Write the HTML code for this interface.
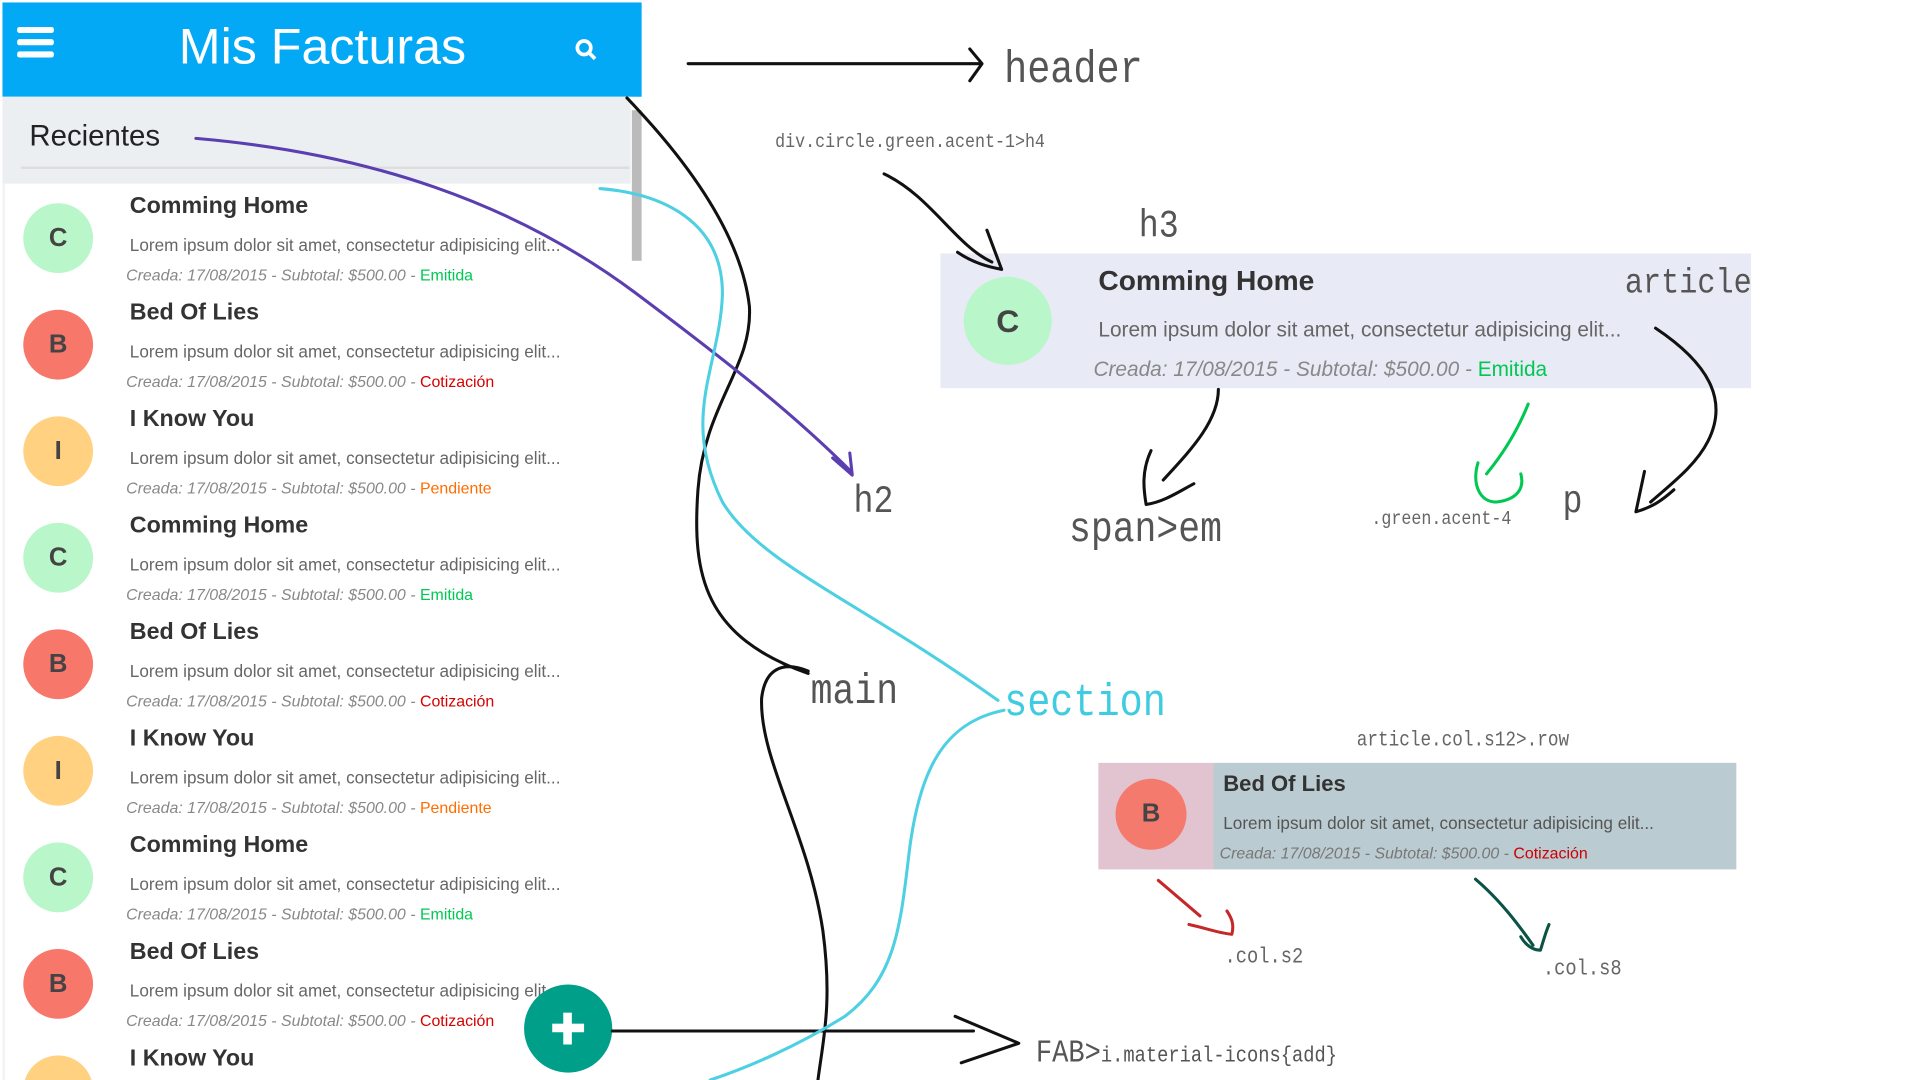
<!DOCTYPE html>
<html><head><meta charset="utf-8"><style>
html,body{margin:0;padding:0;background:#fff;width:1920px;height:1080px;overflow:hidden}
#w{position:absolute;left:0;top:0;width:1568px;height:882px;overflow:hidden;transform:scale(1.22449);transform-origin:0 0;font-family:"Liberation Sans",sans-serif}
.a{position:absolute;white-space:nowrap}
.lbl{position:absolute;white-space:nowrap;font-family:"Liberation Mono",monospace;color:#555;transform:scaleX(.85);transform-origin:0 0}
.circ{position:absolute;border-radius:50%;display:flex;align-items:center;justify-content:center;color:#444;font-weight:bold}
.t{font-size:19px;color:#333;font-weight:bold}
.l{font-size:14px;color:#666}
.c{font-size:13px;color:#888;font-style:italic}
</style></head><body><div id="w">
<div class="a" style="left:2px;top:2px;width:522px;height:77px;background:#03A9F4"></div>
<div class="a" style="left:14px;top:22px;width:30px;height:5px;background:#fff;border-radius:2px"></div>
<div class="a" style="left:14px;top:32px;width:30px;height:5px;background:#fff;border-radius:2px"></div>
<div class="a" style="left:14px;top:42px;width:30px;height:5px;background:#fff;border-radius:2px"></div>
<div class="a" style="left:146px;top:15px;font-size:41px;color:#fff">Mis Facturas</div>
<svg class="a" style="left:468px;top:30px" width="22" height="22"><circle cx="9" cy="9" r="5.5" stroke="#fff" stroke-width="3" fill="none"/><line x1="13" y1="13" x2="18" y2="18" stroke="#fff" stroke-width="3"/></svg>
<div class="a" style="left:2px;top:79px;width:513px;height:71px;background:#ECEFF1"></div>
<div class="a" style="left:24px;top:98px;font-size:24px;color:#222">Recientes</div>
<div class="a" style="left:17px;top:136px;width:497px;height:2px;background:#ddd"></div>
<div class="a" style="left:516px;top:90px;width:8px;height:123px;background:#bbb"></div>
<div class="a" style="left:2px;top:150px;width:2px;height:732px;background:#f2f2f2"></div>

<div id="list"></div>

<div class="circ" style="left:428px;top:804px;width:72px;height:72px;background:#009F89"></div>
<div class="a" style="left:451px;top:836px;width:26px;height:7px;background:#fff"></div>
<div class="a" style="left:460px;top:827px;width:7px;height:26px;background:#fff"></div>

<div class="a" style="left:768px;top:207px;width:662px;height:110px;background:#E8EAF6"></div>
<div class="circ" style="left:787px;top:226px;width:72px;height:72px;background:#B9F6CA;font-size:26px">C</div>
<div class="a" style="left:897px;top:216px;font-size:23px;color:#333;font-weight:bold">Comming Home</div>
<div class="a" style="left:897px;top:260px;font-size:17px;color:#666">Lorem ipsum dolor sit amet, consectetur adipisicing elit...</div>
<div class="a" style="left:893px;top:292px;font-size:17px;color:#888;font-style:italic">Creada: 17/08/2015 - Subtotal: $500.00 - <span style="color:#00C853;font-style:normal">Emitida</span></div>

<div class="a" style="left:897px;top:623px;width:94px;height:87px;background:#E1C4CF"></div>
<div class="a" style="left:991px;top:623px;width:427px;height:87px;background:#BBCBD2"></div>
<div class="circ" style="left:911px;top:636px;width:58px;height:58px;background:#F57A6E;font-size:21px">B</div>
<div class="a" style="left:999px;top:630px;font-size:18px;color:#333;font-weight:bold">Bed Of Lies</div>
<div class="a" style="left:999px;top:664px;font-size:14px;color:#555">Lorem ipsum dolor sit amet, consectetur adipisicing elit...</div>
<div class="a" style="left:996px;top:689px;font-size:13px;color:#777;font-style:italic">Creada: 17/08/2015 - Subtotal: $500.00 - <span style="color:#C00;font-style:normal">Cotización</span></div>

<div class="lbl" style="left:820px;top:37px;font-size:37px">header</div>
<div class="lbl" style="left:633px;top:107px;font-size:16px;color:#666">div.circle.green.acent-1&gt;h4</div>
<div class="lbl" style="left:930px;top:166px;font-size:32px">h3</div>
<div class="lbl" style="left:1327px;top:215px;font-size:29px">article</div>
<div class="lbl" style="left:697px;top:391px;font-size:32px">h2</div>
<div class="lbl" style="left:873px;top:413px;font-size:35px">span&gt;em</div>
<div class="lbl" style="left:1120px;top:415px;font-size:16px;color:#666">.green.acent-4</div>
<div class="lbl" style="left:1276px;top:391px;font-size:32px">p</div>
<div class="lbl" style="left:662px;top:545px;font-size:35px">main</div>
<div class="lbl" style="left:820px;top:554px;font-size:37px;color:#3FCBE0">section</div>
<div class="lbl" style="left:1108px;top:596px;font-size:17px;color:#666">article.col.s12&gt;.row</div>
<div class="lbl" style="left:1000px;top:772px;font-size:18px;color:#666">.col.s2</div>
<div class="lbl" style="left:1260px;top:782px;font-size:18px;color:#666">.col.s8</div>
<div class="lbl" style="left:846px;top:845px;font-size:26px;color:#555">FAB&gt;<span style="font-size:18px">i.material-icons{add}</span></div>

<svg class="a" style="left:0;top:0" width="1568" height="882" fill="none" stroke-linecap="round" stroke-linejoin="round">
<g stroke="#111" stroke-width="2.5">
<path d="M562 52 L800 52"/><path d="M792 40 L802 52 L792 66"/>
<path d="M722 142 C760 160 780 200 810 214"/><path d="M782 206 C795 215 808 218 818 220 L806 188"/>
<path d="M995 318 C995 345 970 370 950 392"/><path d="M940 368 C932 385 934 400 936 412 C950 410 962 402 975 395"/>
<path d="M1352 268 C1400 300 1410 330 1395 360 C1385 380 1365 395 1348 410"/><path d="M1343 385 L1336 418 C1350 414 1358 408 1367 400"/>
<path d="M512 80 C560 130 605 190 612 250 C615 300 575 330 570 400 C565 470 575 520 660 550"/>
<path d="M660 548 C640 540 625 545 622 570 C620 620 660 680 672 760 C680 820 672 850 668 882"/>
<path d="M500 842 L795 842"/><path d="M780 830 L832 852 L785 868"/>
</g>
<g stroke="#5B3FB0" stroke-width="2.5">
<path d="M160 113 C300 125 420 165 520 240 C600 300 650 340 695 385"/><path d="M680 374 L696 388 L694 370"/>
</g>
<g stroke="#4DD0E1" stroke-width="2.5">
<path d="M490 154 C540 158 590 180 590 240 C588 300 555 340 590 410 C620 460 700 490 815 572"/>
<path d="M820 580 C770 590 750 630 742 700 C735 760 730 800 690 830 C650 855 610 872 580 882"/>
</g>
<g stroke="#00C853" stroke-width="2.5">
<path d="M1248 330 C1240 350 1228 370 1214 387"/><path d="M1207 378 C1202 395 1208 410 1222 410 C1240 408 1245 398 1242 387"/>
</g>
<g stroke="#C62828" stroke-width="2.5">
<path d="M946 719 L980 748"/><path d="M971 755 C985 758 995 762 1006 763 C1008 755 1006 750 1002 744"/>
</g>
<g stroke="#0B5345" stroke-width="2.5">
<path d="M1205 718 C1225 735 1240 755 1252 772"/><path d="M1242 765 C1246 772 1252 776 1258 776 C1260 770 1262 762 1265 755"/>
</g>
</svg>
</div>
<script>
var items=[["C","#B9F6CA","Comming Home","Emitida","#00C853"],["B","#F7786B","Bed Of Lies","Cotización","#D50000"],["I","#FFD180","I Know You","Pendiente","#FF6D00"]];
var h="";
for(var k=0;k<9;k++){var it=items[k%3],y=150+87*k;
h+='<div class="circ" style="left:19px;top:'+(y+16)+'px;width:57px;height:57px;background:'+it[1]+';font-size:21px">'+it[0]+'</div>';
h+='<div class="a t" style="left:106px;top:'+(y+8)+'px">'+it[2]+'</div>';
if(k<8){h+='<div class="a l" style="left:106px;top:'+(y+42)+'px">Lorem ipsum dolor sit amet, consectetur adipisicing elit...</div>';
h+='<div class="a c" style="left:103px;top:'+(y+67)+'px">Creada: 17/08/2015 - Subtotal: $500.00 - <span style="font-style:normal;color:'+it[4]+'">'+it[3]+'</span></div>';}}
document.getElementById("list").innerHTML=h;
</script>
</body></html>
